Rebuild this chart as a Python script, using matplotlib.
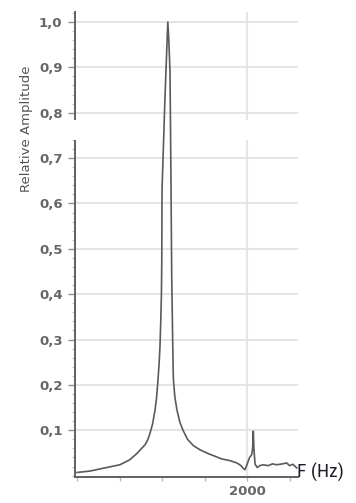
import matplotlib
matplotlib.use('Agg')
import matplotlib.pyplot as plt
from matplotlib.patches import Rectangle
from matplotlib.ticker import FixedLocator, MultipleLocator, FuncFormatter

# spectrum
freq = [0, 150, 300, 505, 620, 700, 750, 800, 830, 860, 890, 918, 935, 950,
        965, 976, 985, 993, 997, 1000, 1035, 1060, 1068, 1080, 1094, 1105,
        1114, 1118, 1125, 1133, 1150, 1175, 1210, 1247, 1300, 1370, 1447, 1550,
        1620, 1700, 1800, 1880, 1930, 1955, 1975, 1995, 2012, 2030, 2055, 2066,
        2074, 2082, 2095, 2121, 2150, 2188, 2250, 2300, 2349, 2420, 2467, 2500,
        2540, 2585]
amp = [0.007, 0.010, 0.016, 0.024, 0.035, 0.048, 0.058, 0.068, 0.078, 0.094,
       0.115, 0.145, 0.170, 0.205, 0.245, 0.285, 0.340, 0.400, 0.470, 0.630,
       0.835, 0.960, 1.000, 0.960, 0.890, 0.660, 0.440, 0.390, 0.300, 0.215,
       0.175, 0.145, 0.118, 0.100, 0.080, 0.066, 0.057, 0.048, 0.043, 0.037,
       0.033, 0.028, 0.022, 0.016, 0.013, 0.022, 0.031, 0.040, 0.046, 0.060,
       0.098, 0.057, 0.025, 0.018, 0.022, 0.024, 0.022, 0.026, 0.024, 0.026,
       0.028, 0.022, 0.025, 0.017]

ytick_vals = [0.1, 0.2, 0.3, 0.4, 0.5, 0.6, 0.7, 0.8, 0.9, 1.0]
xtick_major = [2000]
xtick_minor = [0, 500, 1000, 1500, 2500]

fig = plt.figure(figsize=(3.56, 5.03), dpi=100)
ax = fig.add_axes([75 / 356, 1 - 477 / 503, 223 / 356, 465 / 503])

ax.plot(freq, amp, color='#5a5a5a', lw=1.2, zorder=4)

ax.set_xlim(-24, 2600)
ax.set_ylim(-0.003, 1.022)

ax.yaxis.set_major_locator(FixedLocator(ytick_vals))
ax.yaxis.set_minor_locator(MultipleLocator(0.02))
ax.yaxis.set_major_formatter(FuncFormatter(lambda v, p: ('%.1f' % v).replace('.', ',')))
ax.xaxis.set_major_locator(FixedLocator(xtick_major))
ax.xaxis.set_minor_locator(FixedLocator(xtick_minor))

ax.grid(axis='y', which='major', color='#e4e4e4', lw=1.4, zorder=1)
ax.grid(axis='x', which='major', color='#e6e6e6', lw=1.6, zorder=1)

for s in ['top', 'right']:
    ax.spines[s].set_visible(False)
for s in ['left', 'bottom']:
    ax.spines[s].set_color('#606060')
    ax.spines[s].set_linewidth(1.4)

ax.tick_params(axis='y', which='major', length=5, width=1, color='#909090',
               labelsize=9.5, labelcolor='#666666', pad=4)
ax.tick_params(axis='y', which='minor', length=2.5, width=0.8, color='#bbbbbb')
ax.tick_params(axis='x', which='major', length=3, width=1, color='#bbbbbb',
               labelsize=9.5, labelcolor='#666666', pad=3)
ax.tick_params(axis='x', which='minor', length=3, width=1, color='#bbbbbb')
for lab in ax.get_yticklabels() + ax.get_xticklabels():
    lab.set_fontweight('bold')

ax.set_ylabel('Relative Amplitude', fontsize=9.5, color='#555555')
ax.yaxis.set_label_coords(-0.19, 0.75)

# break in the axis
ax.add_patch(Rectangle((-0.06, 0.74), 1.06, 0.043, transform=ax.get_yaxis_transform(),
                       facecolor='white', edgecolor='none', zorder=3, clip_on=False))

fig.text(297 / 356, 1 - 472 / 503, 'F (Hz)', fontsize=14, color='#1c1c2a',
         family=['Liberation Sans Narrow', 'Roboto Condensed', 'Liberation Sans'],
         va='center', ha='left')

fig.savefig('out.png', dpi=100)
